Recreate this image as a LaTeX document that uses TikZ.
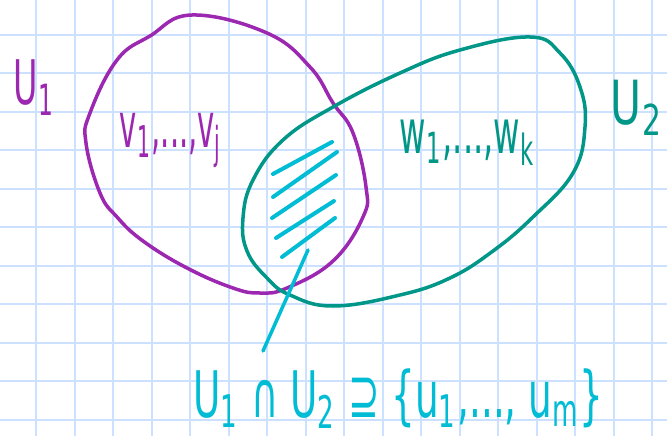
\documentclass[tikz,border=0pt]{standalone}
\usepackage{graphicx}
\usepackage{fontspec}
\setmainfont{DejaVu Sans}
\usepackage{tikz}
\definecolor{gridblue}{RGB}{204, 224, 255}
\definecolor{setpurple}{RGB}{156, 39, 176}
\definecolor{setteal}{RGB}{0, 150, 136}
\definecolor{setcyan}{RGB}{0, 188, 212}
% fit a label into a w x h box (pt)
\newcommand{\handbox}[3]{\resizebox*{#1pt}{#2pt}{#3}}

\begin{document}
\begin{tikzpicture}[x=1pt, y=-1pt,
    gridline/.style={draw=gridblue, line width=2pt},
    setone/.style={draw=setpurple, line width=3.5pt, line cap=round},
    settwo/.style={draw=setteal, line width=3.5pt, line cap=round},
    hatchline/.style={draw=setcyan, line width=4pt, line cap=round},
    setlabel/.style={inner sep=0pt, anchor=center}]
    % Paper
    \fill[white] (0,0) rectangle (667,436);
    \useasboundingbox (0,0) rectangle (667,436);
    \foreach \i in {0,...,16}
        \draw[gridline] (36+38.5*\i,0) -- (36+38.5*\i,436);
    \foreach \j in {0,...,10}
        \draw[gridline] (0,34.7+38.5*\j) -- (667,34.7+38.5*\j);

    % First set U_1
    \draw[setone] plot[smooth cycle, tension=0.7] coordinates {
        (192,15) (267,33) (310,67) (333,103) (353,133) (366,187) (363,217)
        (333,261) (287,288) (260,293) (233,288) (187,268) (143,241)
        (117,217) (100,193) (86,143) (90,113) (117,60) (150,36)};

    % Second set U_2
    \draw[settwo] plot[smooth cycle, tension=0.7] coordinates {
        (333,107) (400,73) (460,50) (530,37) (560,53) (580,87) (585,127)
        (573,173) (533,217) (493,251) (450,278) (400,295) (333,306)
        (290,295) (267,278) (247,251) (243,218) (253,180) (283,140)};

    % Hatched intersection
    \draw[hatchline] (273,174) -- (332,142);
    \draw[hatchline] (273,197) -- (337,152);
    \draw[hatchline] (272,218) -- (336,175);
    \draw[hatchline] (276,238) -- (334,201);
    \draw[hatchline] (282,257) -- (335,218);

    % Labels
    \node[setlabel, text=setpurple] (uone) at (34.5,87.5)
        {\handbox{41}{55}{U\textsubscript{1}}};
    \node[setlabel, text=setpurple] (vlist) at (171,140.5)
        {\handbox{102}{55}{v\textsubscript{1},...,v\textsubscript{j}}};
    \node[setlabel, text=setteal] (wlist) at (467.5,142.5)
        {\handbox{135}{45}{w\textsubscript{1},...,w\textsubscript{k}}};
    \node[setlabel, text=setteal] (utwo) at (637,107.5)
        {\handbox{52}{55}{U\textsubscript{2}}};
    \node[setlabel, text=setcyan] (inter) at (398.5,398.5)
        {\handbox{410}{60}{U\textsubscript{1} ∩ U\textsubscript{2} ⊇ \{u\textsubscript{1},..., u\textsubscript{m}\}}};

    % Pointer to the intersection
    \coordinate (hatch) at (308,250);
    \coordinate (tip) at (263,351);
    \draw[hatchline, line width=3.5pt] (hatch) -- (tip);
\end{tikzpicture}
\end{document}
